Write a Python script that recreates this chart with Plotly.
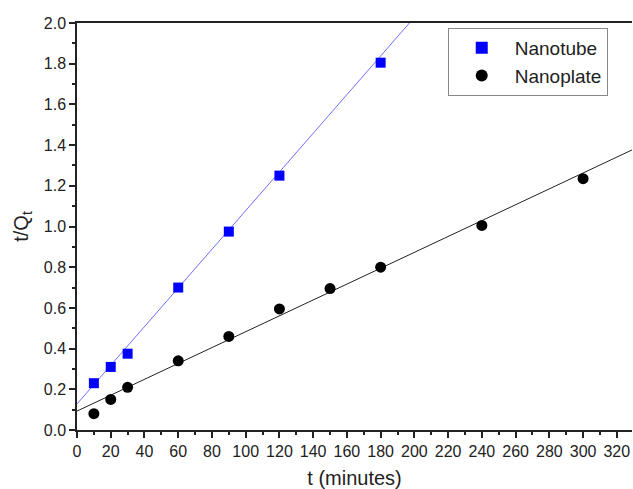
import plotly.graph_objects as go

# Data
tube_t = [10, 20, 30, 60, 90, 120, 180]
tube_y = [0.23, 0.31, 0.375, 0.70, 0.975, 1.25, 1.805]
plate_t = [10, 20, 30, 60, 90, 120, 150, 180, 240, 300]
plate_y = [0.08, 0.15, 0.21, 0.34, 0.46, 0.595, 0.695, 0.80, 1.005, 1.235]

# Linear fits
tube_fit = {"slope": 0.0095, "intercept": 0.128}
plate_fit = {"slope": 0.0039, "intercept": 0.093}
fit_x = [0, 330]

x_ticks = list(range(0, 321, 20))
y_ticks = [0.0, 0.2, 0.4, 0.6, 0.8, 1.0, 1.2, 1.4, 1.6, 1.8, 2.0]

font = "Liberation Sans, Arial, sans-serif"

fig = go.Figure()
fig.add_trace(go.Scatter(
    x=fit_x, y=[tube_fit["intercept"] + tube_fit["slope"] * v for v in fit_x],
    mode="lines", line=dict(color="#6f6fff", width=1), showlegend=False, hoverinfo="skip"))
fig.add_trace(go.Scatter(
    x=fit_x, y=[plate_fit["intercept"] + plate_fit["slope"] * v for v in fit_x],
    mode="lines", line=dict(color="#222222", width=1), showlegend=False, hoverinfo="skip"))
fig.add_trace(go.Scatter(
    x=tube_t, y=tube_y, mode="markers", name="Nanotube",
    marker=dict(symbol="square", size=10, color="#0000ff")))
fig.add_trace(go.Scatter(
    x=plate_t, y=plate_y, mode="markers", name="Nanoplate",
    marker=dict(symbol="circle", size=11, color="#000000")))

fig.update_layout(
    width=633, height=489,
    margin=dict(l=77, r=1, t=23, b=59, autoexpand=False),
    paper_bgcolor="white", plot_bgcolor="white",
    font=dict(family=font, size=16, color="#222222"),
    showlegend=True,
    legend=dict(x=0.668, y=0.988, xanchor="left", yanchor="top",
                bgcolor="white", bordercolor="#888888", borderwidth=1,
                font=dict(size=19), itemsizing="constant", itemwidth=56,
                tracegroupgap=0),
    xaxis=dict(range=[0, 329], tickvals=x_ticks, ticks="outside", ticklen=6,
               tickwidth=1.5, tickcolor="#222", showline=True, linecolor="#222",
               linewidth=1.5, mirror=True, showgrid=False, zeroline=False,
               automargin=True,
               minor=dict(ticks="outside", ticklen=3, dtick=10, tickcolor="#222", tickwidth=1.5),
               title=dict(text="t (minutes)", font=dict(size=20), standoff=14),
               tickfont=dict(size=16)),
    yaxis=dict(range=[0, 2.0], tickvals=y_ticks, tickformat=".1f", ticks="outside",
               ticklen=6, tickwidth=1.5, tickcolor="#222", showline=True,
               linecolor="#222", linewidth=1.5, showgrid=False, zeroline=False,
               automargin=True,
               minor=dict(ticks="outside", ticklen=3, dtick=0.1, tickcolor="#222", tickwidth=1.5),
               title=dict(text="t/Q<sub>t</sub>", font=dict(size=20), standoff=10),
               tickfont=dict(size=16)),
)

fig.write_html("out.html",
               config={"displayModeBar": False},
               post_script="document.body.style.margin='0';"
                           "document.documentElement.style.overflow='hidden';")
